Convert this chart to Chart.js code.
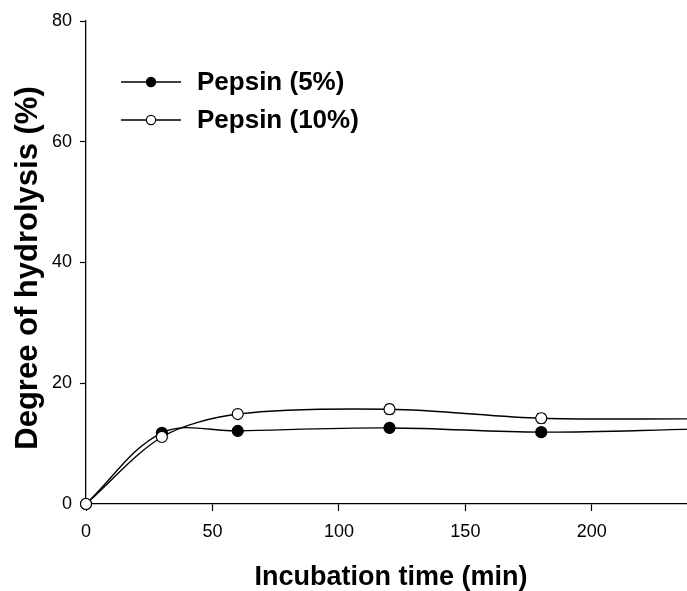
<!DOCTYPE html>
<html lang="en">
<head>
    <meta charset="UTF-8">
    <title>Degree of hydrolysis</title>
    <script src="https://cdn.jsdelivr.net/npm/chart.js"></script>
    <style>
        html, body { margin: 0; padding: 0; overflow: hidden; background: #fff; }
        #wrap { width: 700px; height: 591px; }
    </style>
</head>
<body>
    <div id="wrap"><canvas id="dhChart"></canvas></div>
    <script>
    // incubation time (min)
    const times = [0, 30, 60, 120, 180, 240];
    // degree of hydrolysis (%)
    const pepsin5 = [0, 11.8, 12.1, 12.6, 11.9, 12.4];
    const pepsin10 = [0, 11.1, 14.9, 15.7, 14.2, 14.1];
    // standard deviations
    const err5 = [0, 0.3, 0.3, 0.4, 0.3, 0];
    const err10 = [0, 0.4, 0.5, 0.8, 0.8, 0];
    const seriesNames = ['Pepsin (5%)', 'Pepsin (10%)'];
    const xTitle = 'Incubation time (min)';
    const yTitle = 'Degree of hydrolysis (%)';

    const FONT = '"Liberation Sans", Arial, sans-serif';
    const toXY = (ys) => times.map((t, i) => ({ x: t, y: ys[i] }));

    // error bars, drawn under the lines
    const errorBars = {
        id: 'errorBars',
        beforeDatasetsDraw(chart) {
            const ctx = chart.ctx;
            const xs = chart.scales.x, ys = chart.scales.y;
            [err5, err10].forEach((err, d) => {
                const vals = d === 0 ? pepsin5 : pepsin10;
                ctx.save();
                ctx.strokeStyle = '#000';
                ctx.lineWidth = 1;
                times.forEach((t, i) => {
                    if (!err[i]) return;
                    const px = xs.getPixelForValue(t);
                    const top = ys.getPixelForValue(vals[i] + err[i]);
                    const bot = ys.getPixelForValue(vals[i] - err[i]);
                    ctx.beginPath();
                    ctx.moveTo(px, top); ctx.lineTo(px, bot);
                    ctx.moveTo(px - 4, top); ctx.lineTo(px + 4, top);
                    ctx.moveTo(px - 4, bot); ctx.lineTo(px + 4, bot);
                    ctx.stroke();
                });
                ctx.restore();
            });
        }
    };

    // legend (line + marker) and axis titles
    const extras = {
        id: 'extras',
        afterDraw(chart) {
            const ctx = chart.ctx;
            chart.data.datasets.forEach((ds, i) => {
                const y = 82 + i * 38;
                ctx.save();
                ctx.strokeStyle = '#000';
                ctx.lineWidth = 1.3;
                ctx.beginPath();
                ctx.moveTo(121, y); ctx.lineTo(181, y);
                ctx.stroke();
                ctx.beginPath();
                ctx.arc(151, y, 4.6, 0, Math.PI * 2);
                ctx.fillStyle = ds.pointBackgroundColor;
                ctx.fill();
                ctx.lineWidth = 1.2;
                ctx.stroke();
                ctx.fillStyle = '#000';
                ctx.font = 'bold 26px ' + FONT;
                ctx.textBaseline = 'middle';
                ctx.fillText(seriesNames[i], 197, y + 1);
                ctx.restore();
            });

            ctx.save();
            ctx.fillStyle = '#000';
            ctx.textAlign = 'center';
            ctx.textBaseline = 'alphabetic';
            ctx.font = 'bold 27px ' + FONT;
            ctx.fillText(xTitle, 391, 585);
            ctx.translate(37, 268);
            ctx.rotate(-Math.PI / 2);
            ctx.font = 'bold 31px ' + FONT;
            ctx.fillText(yTitle, 0, 0);
            ctx.restore();
        }
    };

    const ctx = document.getElementById('dhChart').getContext('2d');
    const dhChart = new Chart(ctx, {
        type: 'line',
        data: {
            datasets: [{
                label: seriesNames[0],
                data: toXY(pepsin5),
                order: 1,
                borderColor: '#000',
                borderWidth: 1.4,
                pointRadius: 5.5,
                pointBackgroundColor: '#000',
                pointBorderColor: '#000',
                pointBorderWidth: 1.2,
                tension: 0.35,
                clip: { left: 10, top: 10, bottom: 10, right: 0 }
            }, {
                label: seriesNames[1],
                data: toXY(pepsin10),
                order: 0,
                borderColor: '#000',
                borderWidth: 1.4,
                pointRadius: 5.5,
                pointBackgroundColor: '#fff',
                pointBorderColor: '#000',
                pointBorderWidth: 1.2,
                tension: 0.3,
                clip: { left: 10, top: 10, bottom: 10, right: 0 }
            }]
        },
        options: {
            responsive: true,
            maintainAspectRatio: false,
            animation: false,
            layout: { padding: { top: 21, right: 7, left: 0, bottom: 0 } },
            plugins: {
                legend: { display: false },
                tooltip: { enabled: false }
            },
            scales: {
                x: {
                    type: 'linear',
                    min: 0,
                    max: 240,
                    afterFit(scale) { scale.height = 87; },
                    ticks: {
                        stepSize: 50,
                        includeBounds: false,
                        color: '#000',
                        padding: 10,
                        maxRotation: 0,
                        font: { family: FONT, size: 18 }
                    },
                    grid: { display: true, drawOnChartArea: false, tickLength: 7, color: '#000', tickWidth: 1.2 },
                    border: { color: '#000', width: 1.3 }
                },
                y: {
                    min: 0,
                    max: 80,
                    afterFit(scale) { scale.width = 86; },
                    ticks: {
                        stepSize: 20,
                        color: '#000',
                        padding: 8,
                        font: { family: FONT, size: 18 }
                    },
                    grid: { display: true, drawOnChartArea: false, tickLength: 6, color: '#000', tickWidth: 1.2 },
                    border: { color: '#000', width: 1.3 }
                }
            }
        },
        plugins: [errorBars, extras]
    });
    </script>
</body>
</html>
